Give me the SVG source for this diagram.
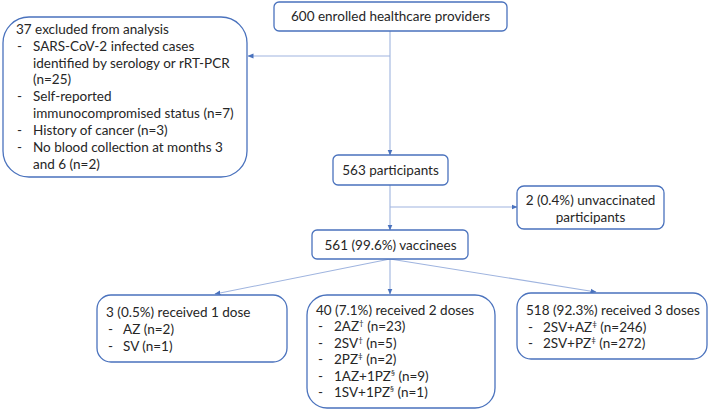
<svg xmlns="http://www.w3.org/2000/svg" width="709" height="411" viewBox="0 0 709 411">
<defs>
<style>
.box{fill:#ffffff;stroke:#4a72bd;stroke-width:1.3}
.t{font-family:Lato,"Open Sans","Liberation Sans",sans-serif;font-size:13.5px;fill:#262626}
.c{text-anchor:middle}
.sup{font-size:8px}
.con{stroke:#9fb4df;stroke-width:1.1;fill:none;marker-end:url(#ah)}
</style>
<marker id="ah" markerUnits="userSpaceOnUse" markerWidth="6" markerHeight="6" refX="5.5" refY="3" orient="auto">
<path d="M0,0.5 L6,3 L0,5.5 Z" fill="#4a72bd"/>
</marker>
</defs>
<rect width="709" height="411" fill="#ffffff"/>
<g id="connectors">
<line class="con" x1="390" y1="31" x2="390" y2="155"/>
<line class="con" x1="390" y1="56" x2="248" y2="56"/>
<line class="con" x1="390" y1="185" x2="390" y2="230"/>
<line class="con" x1="390" y1="207" x2="517" y2="207"/>
<line class="con" x1="390" y1="259" x2="215" y2="294"/>
<line class="con" x1="390" y1="259" x2="390" y2="294"/>
<line class="con" x1="390" y1="259" x2="596" y2="292"/>
</g>
<g id="enrolled">
<rect class="box" x="274" y="2" width="233" height="29" rx="5"/>
<text class="t c" x="390.5" y="21">600 enrolled healthcare providers</text>
</g>
<g id="excluded">
<rect class="box" x="3" y="17" width="244" height="160" rx="26"/>
<text class="t" x="16" y="34">37 excluded from analysis</text>
<text class="t" x="17" y="51">-</text>
<text class="t" x="33" y="51">SARS-CoV-2 infected cases</text>
<text class="t" x="33" y="67.5">identified by serology or rRT-PCR</text>
<text class="t" x="33" y="84">(n=25)</text>
<text class="t" x="17" y="101">-</text>
<text class="t" x="33" y="101">Self-reported</text>
<text class="t" x="33" y="118">immunocompromised status (n=7)</text>
<text class="t" x="17" y="135">-</text>
<text class="t" x="33" y="135">History of cancer (n=3)</text>
<text class="t" x="17" y="152">-</text>
<text class="t" x="33" y="152">No blood collection at months 3</text>
<text class="t" x="33" y="168.5">and 6 (n=2)</text>
</g>
<g id="participants">
<rect class="box" x="333" y="155" width="115" height="30" rx="5"/>
<text class="t c" x="390.5" y="175">563 participants</text>
</g>
<g id="unvaccinated">
<rect class="box" x="517" y="186" width="147" height="43" rx="7"/>
<text class="t c" x="590.5" y="205">2 (0.4%) unvaccinated</text>
<text class="t c" x="590.5" y="222">participants</text>
</g>
<g id="vaccinees">
<rect class="box" x="312" y="230" width="156" height="29" rx="5"/>
<text class="t c" x="390.5" y="250">561 (99.6%) vaccinees</text>
</g>
<g id="dose1">
<rect class="box" x="97" y="295" width="190" height="67" rx="14"/>
<text class="t" x="106" y="317">3 (0.5%) received 1 dose</text>
<text class="t" x="108" y="334">-</text>
<text class="t" x="123" y="334">AZ (n=2)</text>
<text class="t" x="108" y="351">-</text>
<text class="t" x="123" y="351">SV (n=1)</text>
</g>
<g id="dose2">
<rect class="box" x="307" y="295" width="188" height="113" rx="20"/>
<text class="t" x="316" y="315">40 (7.1%) received 2 doses</text>
<text class="t" x="318" y="331">-</text>
<text class="t" x="334" y="331">2AZ<tspan class="sup" dy="-5">†</tspan><tspan dy="5"> (n=23)</tspan></text>
<text class="t" x="318" y="347.5">-</text>
<text class="t" x="334" y="347.5">2SV<tspan class="sup" dy="-5">†</tspan><tspan dy="5"> (n=5)</tspan></text>
<text class="t" x="318" y="364">-</text>
<text class="t" x="334" y="364">2PZ<tspan class="sup" dy="-5">‡</tspan><tspan dy="5"> (n=2)</tspan></text>
<text class="t" x="318" y="380.5">-</text>
<text class="t" x="334" y="380.5">1AZ+1PZ<tspan class="sup" dy="-5">§</tspan><tspan dy="5"> (n=9)</tspan></text>
<text class="t" x="318" y="397">-</text>
<text class="t" x="334" y="397">1SV+1PZ<tspan class="sup" dy="-5">§</tspan><tspan dy="5"> (n=1)</tspan></text>
</g>
<g id="dose3">
<rect class="box" x="517" y="293" width="190" height="66" rx="14"/>
<text class="t" x="526" y="315">518 (92.3%) received 3 doses</text>
<text class="t" x="528" y="331.5">-</text>
<text class="t" x="543" y="331.5">2SV+AZ<tspan class="sup" dy="-5">‡</tspan><tspan dy="5"> (n=246)</tspan></text>
<text class="t" x="528" y="348">-</text>
<text class="t" x="543" y="348">2SV+PZ<tspan class="sup" dy="-5">‡</tspan><tspan dy="5"> (n=272)</tspan></text>
</g>
</svg>
